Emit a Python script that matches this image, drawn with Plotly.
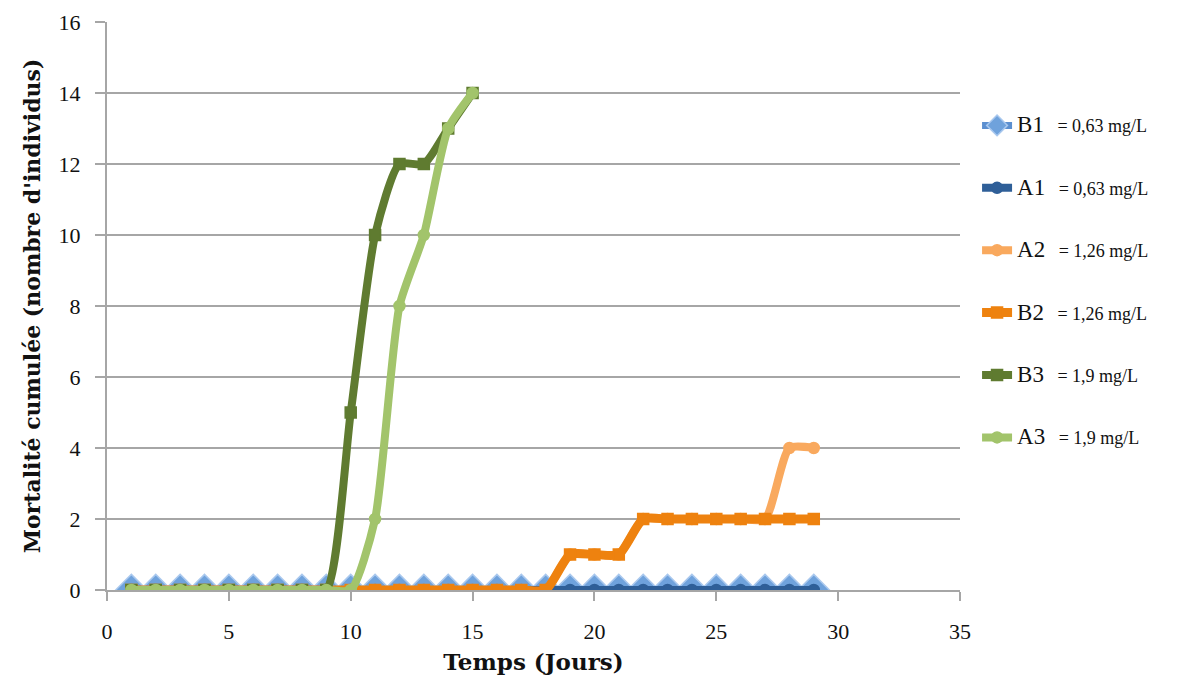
import plotly.graph_objects as go

days_long = list(range(1, 30))
days_short = list(range(1, 16))

B1 = [0] * 29
A1 = [0] * 29
B2 = [0]*18 + [1, 1, 1] + [2]*8
A2 = [0]*18 + [1, 1, 1] + [2]*6 + [4, 4]
B3 = [0]*9 + [5, 10, 12, 12, 13, 14]
A3 = [0]*10 + [2, 8, 10, 13, 14]

names = ["B1", "A1", "A2", "B2", "B3", "A3"]
concs = ["= 0,63 mg/L", "= 0,63 mg/L", "= 1,26 mg/L", "= 1,26 mg/L", "= 1,9 mg/L", "= 1,9 mg/L"]
series = [(days_long, B1), (days_long, A1), (days_long, A2), (days_long, B2), (days_short, B3), (days_short, A3)]
colors = ["#5B8FD0", "#2F5F98", "#F9A95E", "#EE820F", "#5F7B30", "#A2C46B"]
mcolors = ["#6FA2DC", "#2F5F98", "#F9A95E", "#EE820F", "#5F7B30", "#A2C46B"]
symbols = ["diamond", "circle", "circle", "square", "square", "circle"]
msizes = [24, 11, 11, 11, 11, 11]
mline = ["#A9C8EE", "#2F5F98", "#F9A95E", "#EE820F", "#5F7B30", "#A2C46B"]
lwidths = [7, 8, 8, 9, 8, 8]

fig = go.Figure()
for i, (nm, cc, (xs, ys)) in enumerate(zip(names, concs, series)):
    fig.add_trace(go.Scatter(
        x=xs, y=ys, mode="lines+markers",
        name=f"<span style='font-size:23px'>{nm}</span><span style='font-size:18px'>&nbsp;&nbsp; {cc}</span>",
        line=dict(color=colors[i], width=lwidths[i], shape="spline", smoothing=0.6),
        marker=dict(symbol=symbols[i], size=msizes[i], color=mcolors[i],
                    line=dict(color=mline[i], width=1.5)),
        legendgroup=nm,
    ))

# page body has an 8px default margin; compensate so the plot area matches
fig.update_layout(
    width=1201, height=684,
    margin=dict(l=99, r=249, t=14, b=102, autoexpand=False),
    paper_bgcolor="white", plot_bgcolor="white",
    font=dict(family="Liberation Serif", color="#111111"),
    showlegend=True,
    legend=dict(x=1.02, y=0.85, xanchor="left", yanchor="top",
                tracegroupgap=36, font=dict(size=18, family="Liberation Serif"),
                itemsizing="trace",
                bgcolor="rgba(0,0,0,0)"),
    xaxis=dict(range=[0, 35], dtick=5, showgrid=False, showline=True,
               linecolor="#A6A6A6", linewidth=2, ticks="outside", ticklen=9,
               tickcolor="#A6A6A6", tickwidth=2, zeroline=False, automargin=False,
               ticklabelstandoff=12,
               tickfont=dict(size=22, family="Liberation Serif"),
               title=dict(text="<b>Temps (Jours)</b>", font=dict(size=23, family="DejaVu Serif"), standoff=10)),
    yaxis=dict(range=[0, 16], dtick=2, showgrid=True, gridcolor="#A6A6A6", gridwidth=2,
               showline=True, linecolor="#A6A6A6", linewidth=2, ticks="outside", ticklen=10,
               tickcolor="#A6A6A6", tickwidth=2, zeroline=False, automargin=False,
               ticklabelstandoff=10,
               tickfont=dict(size=22, family="Liberation Serif"),
               title=dict(text="<b>Mortalité cumulée (nombre d'individus)</b>", font=dict(size=22, family="DejaVu Serif"), standoff=12)),
)

fig.write_html("out.html")
